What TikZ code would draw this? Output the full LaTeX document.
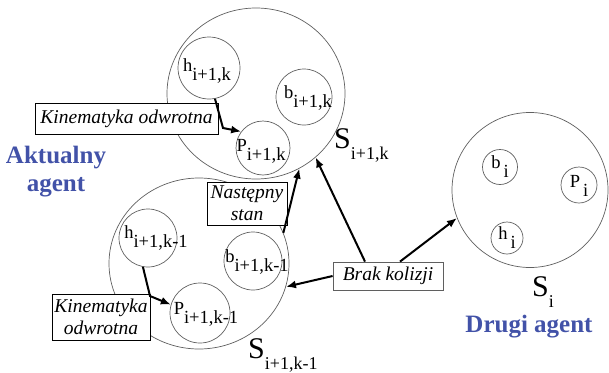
\documentclass[tikz,border=0pt]{standalone}
\usepackage{fontspec}
\setmainfont{Liberation Serif}
\usetikzlibrary{arrows.meta,shapes.geometric}

\definecolor{agentblue}{RGB}{66,82,168}
\definecolor{ringgray}{RGB}{95,95,95}

% symbol with a lowered index, as used inside the small circles
\newcommand\lowidx[2]{#1\raisebox{-9pt}{#2}}
% large S with its lowered index
\newcommand\Sidx[1]{{\fontsize{30}{30}\selectfont S}\raisebox{-11pt}{\fontsize{18}{18}\selectfont #1}}

\tikzset{
  stateset/.style={ellipse, draw=ringgray, line width=0.7pt, inner sep=0pt},
  elem/.style={circle, draw=ringgray, line width=0.7pt, inner sep=0pt},
  elemtext/.style={inner sep=0pt, font=\fontsize{18.5}{18.5}\selectfont},
  notebox/.style={draw=black, line width=1pt, fill=white, inner sep=1pt,
                  align=center, font=\fontsize{19.5}{22}\selectfont\itshape},
  flow/.style={line width=2pt, -{Latex[length=10pt,width=8pt]}},
  agentname/.style={text=agentblue, align=center,
                    font=\fontsize{25}{28}\selectfont\bfseries}
}

\begin{document}
\begin{tikzpicture}[x=1pt,y=-1pt]
\useasboundingbox (0,0) rectangle (609,372);

% state sets
\node[stateset, minimum width=178pt, minimum height=171pt] (Sk)  at (256,93.5) {};
\node[stateset, minimum width=180pt, minimum height=171pt] (Skm) at (199,263.5) {};
\node[stateset, minimum width=156pt, minimum height=155pt] (Si)  at (530,190) {};

% elements of S_{i+1,k}
\node[elem, minimum size=62pt] (hk) at (209,68) {};
\node[elem, minimum size=56pt] (bk) at (304,97) {};
\node[elem, minimum size=54pt] (Pk) at (263,148) {};
\node[elemtext] (hkt) at (207,71)  {\lowidx{h}{i+1,k}};
\node[elemtext] (bkt) at (308,98)  {\lowidx{b}{i+1,k}};
\node[elemtext] (Pkt) at (261,151) {\lowidx{P}{i+1,k}};

% elements of S_{i+1,k-1}
\node[elem, minimum size=58pt] (hkm) at (148,238) {};
\node[elem, minimum size=58pt] (bkm) at (253,261) {};
\node[elem, minimum size=60pt] (Pkm) at (200,313) {};
\node[elemtext] (hkmt) at (156,238) {\lowidx{h}{i+1,k-1}};
\node[elemtext] (bkmt) at (257,262) {\lowidx{b}{i+1,k-1}};
\node[elemtext] (Pkmt) at (206,314) {\lowidx{P}{i+1,k-1}};

% elements of S_i
\node[elem, minimum size=35pt] (bi) at (500,167) {};
\node[elem, minimum size=36pt] (Pi) at (579,185) {};
\node[elem, minimum size=32pt] (hi) at (507,238) {};
\node[elemtext] (bit) at (500,167) {\lowidx{b\,}{i}};
\node[elemtext] (Pit) at (579,186) {\lowidx{P\,}{i}};
\node[elemtext] (hit) at (507,238) {\lowidx{h\,}{i}};

% set names
\node[anchor=base west, inner sep=0pt] (Skl)  at (334,148) {\Sidx{i+1,k}};
\node[anchor=base west, inner sep=0pt] (Skml) at (248,358) {\Sidx{i+1,k-1}};
\node[anchor=base west, inner sep=0pt] (Sil)  at (532,296) {\Sidx{i}};

% agent names
\node[agentname] (cur) at (56,172) {Aktualny\\agent};
\node[agentname, anchor=base] (other) at (529,332) {Drugi agent};

% annotation boxes
\node[notebox, minimum width=183pt, minimum height=31pt] (kin1) at (126.5,118.5) {Kinematyka odwrotna};
\node[notebox, minimum width=98pt, minimum height=46pt] (kin2) at (101,317) {Kinematyka\\odwrotna};
\node[notebox, minimum width=80pt, minimum height=43pt] (nast) at (247,203.5) {Następny\\stan};
\node[notebox, draw=ringgray, line width=0.8pt, minimum width=110pt, minimum height=28pt] (brak) at (388,276) {Brak kolizji};

% bends of the inverse-kinematics arrows
\coordinate (b1) at (223,128);
\coordinate (b2) at (150,296);

% connectors
\draw[flow] (hk.-79) -- (b1) -- (Pk.143);
\draw[flow] (hkm.-100) -- (b2) -- (Pkm.164);
\draw[flow] (Skm.20) -- (Sk.-60);
\draw[flow] ([xshift=-23pt]brak.north) -- (Sk.-47);
\draw[flow] ([xshift=12pt]brak.north) -- (Si.201);
\draw[flow] (brak.west) -- (Skm.-15);
\end{tikzpicture}
\end{document}
